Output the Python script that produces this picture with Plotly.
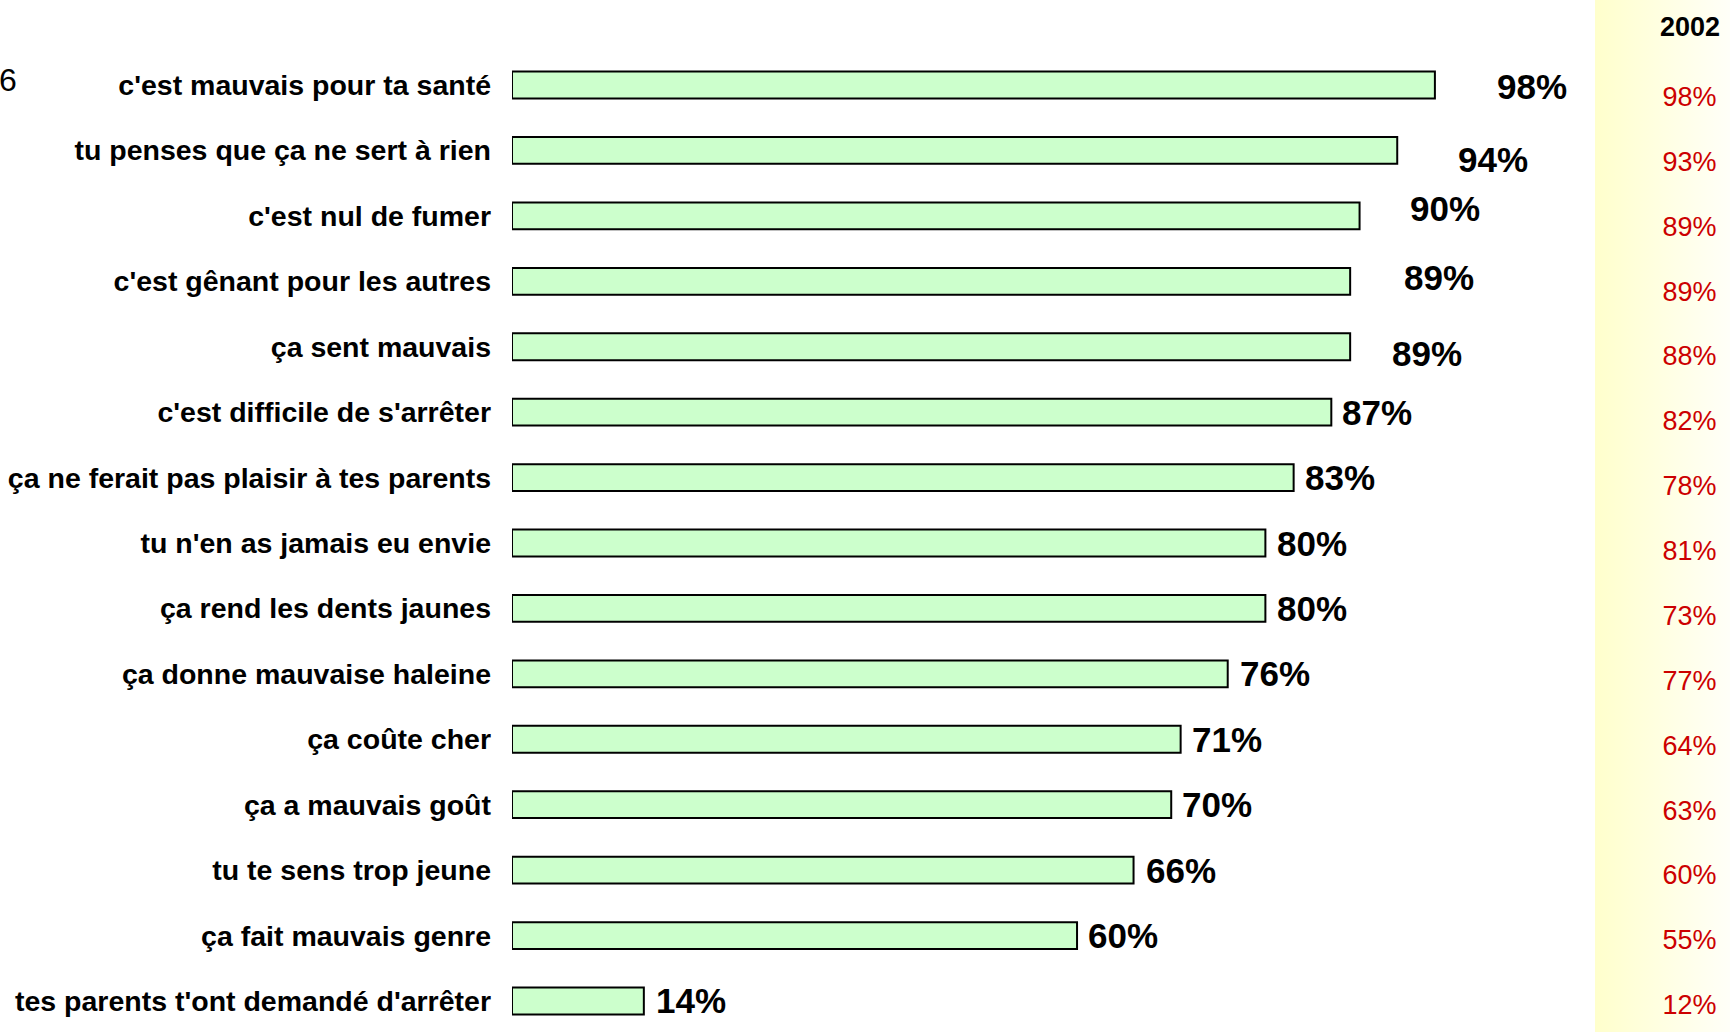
import plotly.graph_objects as go

# ---- data ----
categories = [
    "c'est mauvais pour ta santé",
    "tu penses que ça ne sert à rien",
    "c'est nul de fumer",
    "c'est gênant pour les autres",
    "ça sent mauvais",
    "c'est difficile de s'arrêter",
    "ça ne ferait pas plaisir à tes parents",
    "tu n'en as jamais eu envie",
    "ça rend les dents jaunes",
    "ça donne mauvaise haleine",
    "ça coûte cher",
    "ça a mauvais goût",
    "tu te sens trop jeune",
    "ça fait mauvais genre",
    "tes parents t'ont demandé d'arrêter",
]
values_current = [98, 94, 90, 89, 89, 87, 83, 80, 80, 76, 71, 70, 66, 60, 14]
values_2002 = [98, 93, 89, 89, 88, 82, 78, 81, 73, 77, 64, 63, 60, 55, 12]
column_title = "2002"
corner_text = "6"

# label nudges (pixels) as in the original slide
label_dx = [60, 59, 48, 52, 40, 9, 9, 10, 10, 10, 9, 9, 10, 9, 10]
label_dy = [-1, -9, 7, 4, -7, 0, 0, 0, 0, 0, 0, 0, 0, 0, 0]

W, H = 1730, 1032
FONT = "Liberation Sans, Arial, sans-serif"

fig = go.Figure()

fig.add_trace(go.Bar(
    y=categories, x=values_current, orientation="h",
    marker=dict(color="#CCFFCC", line=dict(color="#000000", width=2)),
    width=0.41, xaxis="x", yaxis="y", hoverinfo="skip", showlegend=False,
))

# yellow panel (gradient) on x2/y2
fig.add_trace(go.Scatter(
    x=[0, 1, 1, 0, 0], y=[-10, -10, 30, 30, -10], mode="lines",
    line=dict(width=0), fill="toself",
    fillgradient=dict(type="horizontal",
                      colorscale=[[0, "#FFFFCC"], [1, "#FFFFF8"]]),
    xaxis="x2", yaxis="y2", hoverinfo="skip", showlegend=False,
))

fig.add_trace(go.Scatter(
    x=[0.70] * len(values_2002), y=list(range(len(values_2002))),
    mode="text", text=[f"{v}%" for v in values_2002],
    textposition="middle center",
    textfont=dict(family=FONT, size=27, color="#CC0000"),
    xaxis="x2", yaxis="y2", hoverinfo="skip", showlegend=False,
))

annotations = []
for c, v, dx, dy in zip(categories, values_current, label_dx, label_dy):
    annotations.append(dict(
        x=v, y=c, xref="x", yref="y", text=f"{v}%", showarrow=False,
        xanchor="left", yanchor="middle", xshift=dx, yshift=dy,
        font=dict(family=FONT, size=35, color="#000000", weight="bold"),
    ))
annotations.append(dict(
    x=0.70, y=-1.11, xref="x2", yref="y2", text=column_title, showarrow=False,
    xanchor="center", yanchor="middle",
    font=dict(family=FONT, size=27, color="#000000", weight="bold"),
))
annotations.append(dict(
    x=0, y=1 - 80 / H, xref="paper", yref="paper", text=corner_text,
    showarrow=False, xanchor="left", yanchor="middle", xshift=-3,
    font=dict(family=FONT, size=32, color="#000000"),
))

fig.update_layout(
    width=W, height=H,
    margin=dict(l=0, r=0, t=0, b=0),
    paper_bgcolor="white", plot_bgcolor="rgba(0,0,0,0)",
    xaxis=dict(domain=[512 / W, 1595 / W], range=[0, 115.0],
               visible=False, fixedrange=True),
    yaxis=dict(domain=[0, 1 - 52.3 / H], range=[14.474, -0.5],
               type="category", showgrid=False, zeroline=False,
               showline=False, ticks="", ticklabelstandoff=20,
               tickfont=dict(family=FONT, size=28.5, color="#000000",
                             weight="bold"),
               fixedrange=True),
    xaxis2=dict(domain=[1595 / W, 1], range=[0, 1], visible=False,
                anchor="y2", fixedrange=True),
    yaxis2=dict(domain=[0, 1], range=[14.38, -1.53], visible=False,
                anchor="x2", fixedrange=True),
    annotations=annotations,
    showlegend=False,
)

fig.write_html(
    "out.html",
    config={"displayModeBar": False},
    post_script="document.body.style.margin='0';document.body.style.overflow='hidden';",
)
